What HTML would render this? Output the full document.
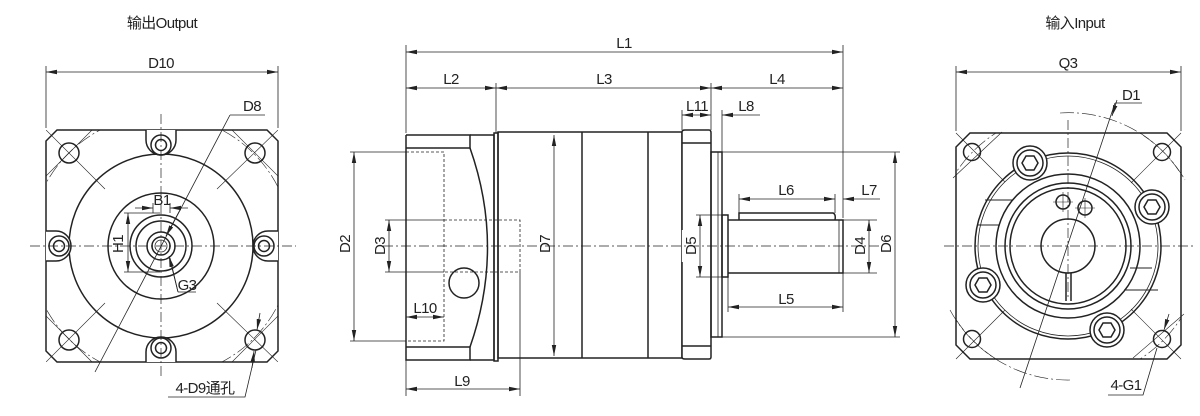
<!DOCTYPE html>
<html><head><meta charset="utf-8"><style>
html,body{margin:0;padding:0;background:#fff;}
svg{display:block;}
text{font-family:"Liberation Sans Narrow","Liberation Sans","Noto Sans CJK SC",sans-serif;font-size:15px;fill:#222;letter-spacing:-0.6px;}
</style></head><body>
<svg width="1200" height="416" viewBox="0 0 1200 416" xmlns="http://www.w3.org/2000/svg">
<defs>
<marker id="a" markerWidth="12" markerHeight="6" refX="11" refY="3" orient="auto-start-reverse" markerUnits="userSpaceOnUse"><path d="M0,0.8 L11,3 L0,5.2z" fill="#222"/></marker>
<clipPath id="cl"><rect x="46" y="130" width="232" height="232"/></clipPath>
<clipPath id="cr"><rect x="956" y="133" width="225" height="226"/></clipPath>
</defs>
<g stroke="#222" fill="none" stroke-width="1.5">

<!-- ============ LEFT VIEW ============ -->
<g stroke-width="0.8">
<line x1="46" y1="66" x2="46" y2="128"/><line x1="278" y1="66" x2="278" y2="128"/>
<line x1="46" y1="72" x2="278" y2="72" marker-start="url(#a)" marker-end="url(#a)"/>
</g>
<path d="M57,130 H267 L278,141 V351 L267,362 H57 L46,351 V141 Z"/>
<circle cx="161" cy="246" r="92"/>
<circle cx="161" cy="246" r="53"/>
<circle cx="161" cy="246" r="31"/>
<circle cx="161" cy="246" r="25"/>
<circle cx="161" cy="246" r="14"/>
<circle cx="161" cy="246" r="9"/>
<circle cx="161" cy="246" r="6" stroke-width="0.8"/>
<path d="M146,130 V140 A15,15 0 0 0 176,140 V130" fill="#fff"/>
<circle cx="161" cy="145" r="10"/><circle cx="161" cy="145" r="5.5"/>
<path d="M146,362 V352 A15,15 0 0 1 176,352 V362" fill="#fff"/>
<circle cx="161" cy="348" r="10"/><circle cx="161" cy="348" r="5.5"/>
<path d="M46,231 H56 A15,15 0 0 1 56,261 H46" fill="#fff"/>
<circle cx="59" cy="246" r="10"/><circle cx="59" cy="246" r="5.5"/>
<path d="M278,231 H268 A15,15 0 0 0 268,261 H278" fill="#fff"/>
<circle cx="264" cy="246" r="10"/><circle cx="264" cy="246" r="5.5"/>
<g>
<circle cx="69" cy="153" r="10"/><circle cx="255" cy="153" r="10"/>
<circle cx="69" cy="340" r="10"/><circle cx="255" cy="340" r="10"/>
</g>
<g stroke-width="0.6" clip-path="url(#cl)">
<circle cx="161" cy="246" r="131" stroke-dasharray="14,3,2,3"/>
<line x1="46" y1="130" x2="105" y2="189"/><line x1="278" y1="130" x2="217" y2="189"/>
<line x1="46" y1="362" x2="105" y2="303"/><line x1="278" y1="362" x2="217" y2="303"/>
<line x1="46" y1="176" x2="92" y2="130"/><line x1="232" y1="130" x2="278" y2="176"/>
<line x1="46" y1="316" x2="92" y2="362"/><line x1="232" y1="362" x2="278" y2="316"/>
</g>
<g stroke-width="0.7" stroke-dasharray="10,3,2,3">
<line x1="30" y1="246" x2="296" y2="246"/><line x1="161" y1="114" x2="161" y2="376"/>
</g>
<g stroke-width="0.8">
<path d="M153,213 V203 M170,213 V203"/>
<line x1="135" y1="208" x2="153" y2="208" marker-end="url(#a)"/>
<line x1="188" y1="208" x2="170" y2="208" marker-end="url(#a)"/>
<path d="M124,213 H160 M124,272 H160"/>
<line x1="128" y1="213" x2="128" y2="272" marker-start="url(#a)" marker-end="url(#a)"/>
<line x1="95" y1="372" x2="230" y2="115"/>
<path d="M230,115 H265"/>
<line x1="180" y1="210" x2="166" y2="236" marker-end="url(#a)"/>
<path d="M178,292 L170,258 M178,292 H196"/>
<line x1="178" y1="292" x2="169" y2="256" marker-end="url(#a)"/>
<path d="M168,397 H245 L256,350"/>
<line x1="260" y1="313" x2="257" y2="330" marker-end="url(#a)"/>
<line x1="252" y1="368" x2="254" y2="351" marker-end="url(#a)"/>
</g>

<!-- ============ MIDDLE VIEW ============ -->
<g stroke-width="0.8">
<line x1="406" y1="45" x2="406" y2="133"/>
<line x1="843" y1="45" x2="843" y2="218"/>
<line x1="406" y1="52" x2="843" y2="52" marker-start="url(#a)" marker-end="url(#a)"/>
<line x1="496" y1="83" x2="496" y2="133"/>
<line x1="711" y1="83" x2="711" y2="130"/>
<line x1="406" y1="88" x2="496" y2="88" marker-start="url(#a)" marker-end="url(#a)"/>
<line x1="496" y1="88" x2="711" y2="88" marker-start="url(#a)" marker-end="url(#a)"/>
<line x1="711" y1="88" x2="843" y2="88" marker-start="url(#a)" marker-end="url(#a)"/>
<line x1="682" y1="110" x2="682" y2="130"/>
<line x1="722" y1="110" x2="722" y2="152"/>
<line x1="682" y1="115" x2="711" y2="115" marker-start="url(#a)" marker-end="url(#a)"/>
<line x1="760" y1="115" x2="722" y2="115" marker-end="url(#a)"/>
</g>
<path d="M406,135 H470 V148 H406 M406,135 V360 H470 V347 H406"/>
<path d="M470,148 Q505,247 470,347"/>
<path d="M470,135 H494 V360 H470"/>
<rect x="494" y="133" width="4" height="228"/>
<rect x="498" y="132" width="184" height="226"/>
<line x1="582" y1="132" x2="582" y2="358"/>
<line x1="648" y1="132" x2="648" y2="358"/>
<path d="M682,230 V132 Q682,130 685,130 H709 Q711,130 711,133 V357 Q711,359 709,359 H685 Q682,359 682,357 V262" fill="#fff"/>
<line x1="682" y1="143" x2="711" y2="143"/><line x1="682" y1="346" x2="711" y2="346"/>
<rect x="711" y="152" width="11" height="185"/>
<line x1="718" y1="152" x2="718" y2="337" stroke-width="0.8"/>
<rect x="722" y="215" width="6" height="62"/>
<path d="M728,220 H843 V273 H728"/>
<line x1="839" y1="220" x2="839" y2="273" stroke-width="0.8"/>
<path d="M739,220 V213 H833 Q836,214 835,220"/>
<g stroke-width="0.8" stroke-dasharray="3,2">
<path d="M406,152 H444 V341 H406"/>
<path d="M444,220 H520 V272 H444"/>
</g>
<circle cx="464" cy="283" r="15"/>
<g stroke-width="0.7" stroke-dasharray="10,3,2,3">
<line x1="383" y1="246" x2="880" y2="246"/>
</g>
<g stroke-width="0.8">
<path d="M350,152 H406 M350,341 H406"/>
<line x1="354" y1="152" x2="354" y2="341" marker-start="url(#a)" marker-end="url(#a)"/>
<path d="M385,220 H444 M385,272 H444"/>
<line x1="389" y1="220" x2="389" y2="272" marker-start="url(#a)" marker-end="url(#a)"/>
<line x1="406" y1="317" x2="444" y2="317" marker-start="url(#a)" marker-end="url(#a)"/>
<path d="M406,360 V396 M520,272 V396"/>
<line x1="406" y1="389" x2="520" y2="389" marker-start="url(#a)" marker-end="url(#a)"/>
<line x1="554" y1="135" x2="554" y2="356" marker-start="url(#a)" marker-end="url(#a)"/>
<path d="M696,215 H722 M696,277 H722"/>
<line x1="700" y1="215" x2="700" y2="277" marker-start="url(#a)" marker-end="url(#a)"/>
<path d="M843,220 H877 M843,273 H877"/>
<line x1="869" y1="220" x2="869" y2="273" marker-start="url(#a)" marker-end="url(#a)"/>
<path d="M722,152 H900 M722,337 H900"/>
<line x1="895" y1="152" x2="895" y2="337" marker-start="url(#a)" marker-end="url(#a)"/>
<path d="M739,194 V213 M835,194 V213"/>
<line x1="739" y1="199" x2="835" y2="199" marker-start="url(#a)" marker-end="url(#a)"/>
<line x1="880" y1="199" x2="843" y2="199" marker-end="url(#a)"/>
<path d="M728,277 V312 M843,273 V312"/>
<line x1="728" y1="307" x2="843" y2="307" marker-start="url(#a)" marker-end="url(#a)"/>
</g>

<!-- ============ RIGHT VIEW ============ -->
<g stroke-width="0.8">
<line x1="956" y1="66" x2="956" y2="131"/><line x1="1181" y1="66" x2="1181" y2="131"/>
<line x1="956" y1="72" x2="1181" y2="72" marker-start="url(#a)" marker-end="url(#a)"/>
</g>
<path d="M970,133 H1167 L1181,147 V345 L1167,359 H970 L956,345 V147 Z"/>
<circle cx="1068" cy="246" r="93"/>
<circle cx="1068" cy="246" r="90" stroke-width="0.8"/>
<g stroke-width="1">
<path d="M985,200 H1012 M978,225 H1000 M1124,290 H1158 M1130,268 H1152"/>
</g>
<circle cx="1068" cy="246" r="72"/>
<circle cx="1068" cy="246" r="63"/>
<circle cx="1068" cy="246" r="58"/>
<circle cx="1068" cy="246" r="27"/>
<path d="M1066,273 V301 M1071,273 V301"/>
<circle cx="1063" cy="202" r="7"/><circle cx="1085" cy="208" r="7"/>
<g stroke-width="0.6"><path d="M1053,202 H1073 M1063,192 V212 M1075,208 H1095 M1085,198 V218"/></g>
<g fill="#fff">
<circle cx="1030" cy="163" r="17"/><circle cx="1030" cy="163" r="13"/>
<circle cx="1152" cy="207" r="17"/><circle cx="1152" cy="207" r="13"/>
<circle cx="983" cy="285" r="17"/><circle cx="983" cy="285" r="13"/>
<circle cx="1107" cy="330" r="17"/><circle cx="1107" cy="330" r="13"/>
</g>
<g>
<polygon points="1038,163 1034,170 1026,170 1022,163 1026,156 1034,156"/>
<polygon points="1160,207 1156,214 1148,214 1144,207 1148,200 1156,200"/>
<polygon points="991,285 987,292 979,292 975,285 979,278 987,278"/>
<polygon points="1115,330 1111,337 1103,337 1099,330 1103,323 1111,323"/>
</g>
<circle cx="972" cy="152" r="8.5"/><circle cx="1162" cy="152" r="8.5"/>
<circle cx="972" cy="339" r="8.5"/><circle cx="1162" cy="339" r="8.5"/>
<g stroke-width="0.6">
<circle cx="1068" cy="246" r="134" stroke-dasharray="14,3,2,3" clip-path="url(#cr)"/>
<path d="M1060,113 A134,134 0 0 1 1185,180" stroke-dasharray="14,3,2,3"/>
<path d="M1070,380 A134,134 0 0 1 950,310" stroke-dasharray="14,3,2,3"/>
<path d="M956,133 L1005,182 M1181,133 L1131,183 M956,359 L1005,310 M1181,359 L1131,309"/>
<path d="M953,178 L1002,132 M1133,358 L1184,314"/>
</g>
<g stroke-width="0.7" stroke-dasharray="10,3,2,3">
<line x1="944" y1="246" x2="1195" y2="246"/><line x1="1068" y1="120" x2="1068" y2="300"/>
</g>
<g stroke-width="0.8">
<line x1="1020" y1="388" x2="1115" y2="103"/>
<path d="M1115,103 H1142"/>
<line x1="1117" y1="100" x2="1112" y2="116" marker-end="url(#a)"/>
<path d="M1108,395 H1143 L1157,348"/>
<line x1="1169" y1="314" x2="1164" y2="330" marker-end="url(#a)"/>
</g>
</g>

<!-- ============ TEXT ============ -->
<g text-anchor="middle">
<text x="162" y="28" font-size="14">输出Output</text>
<text x="1075" y="28" font-size="14">输入Input</text>
<text x="161" y="68">D10</text>
<text x="252" y="111">D8</text>
<text x="162" y="205">B1</text>
<text x="187" y="290">G3</text>
<text transform="translate(123,244) rotate(-90)">H1</text>
<text x="205" y="393">4-D9通孔</text>
<text x="624" y="48">L1</text>
<text x="451" y="84">L2</text>
<text x="604" y="84">L3</text>
<text x="777" y="84">L4</text>
<text x="697" y="111">L11</text>
<text x="746" y="111">L8</text>
<text x="786" y="195">L6</text>
<text x="869" y="195">L7</text>
<text x="786" y="304">L5</text>
<text x="425" y="313">L10</text>
<text x="462" y="386">L9</text>
<text transform="translate(350,244) rotate(-90)">D2</text>
<text transform="translate(385,246) rotate(-90)">D3</text>
<text transform="translate(550,244) rotate(-90)">D7</text>
<text transform="translate(696,246) rotate(-90)">D5</text>
<text transform="translate(865,246) rotate(-90)">D4</text>
<text transform="translate(891,244) rotate(-90)">D6</text>
<text x="1068" y="68">Q3</text>
<text x="1131" y="100">D1</text>
<text x="1126" y="390">4-G1</text>
</g>
</svg>
</body></html>
